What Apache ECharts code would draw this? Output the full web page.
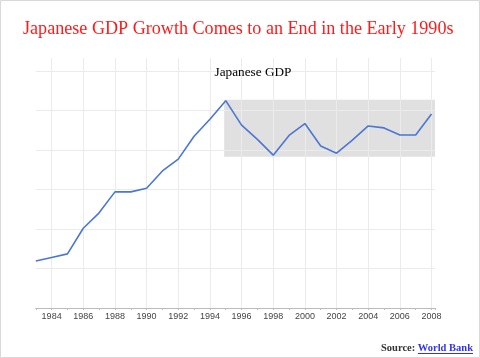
<!DOCTYPE html>
<html>
<head>
<meta charset="utf-8">
<script src="https://cdn.jsdelivr.net/npm/echarts@6/dist/echarts.min.js"></script>
<style>
html,body{margin:0;padding:0;background:#fff;}
#chart{width:480px;height:358px;}
</style>
</head>
<body>
<div id="chart"></div>
<script>
// Data (relative GDP level, unlabelled axis)
var years = [1983,1984,1985,1986,1987,1988,1989,1990,1991,1992,1993,1994,1995,1996,1997,1998,1999,2000,2001,2002,2003,2004,2005,2006,2007,2008];
var gdp   = [1.19,1.28,1.37,2.02,2.41,2.94,2.94,3.03,3.47,3.77,4.35,4.78,5.25,4.63,4.27,3.87,4.37,4.67,4.10,3.92,4.25,4.61,4.56,4.38,4.38,4.91];
var tickYears = [1984,1986,1988,1990,1992,1994,1996,1998,2000,2002,2004,2006,2008];
var gridValues = [1,2,3,4,5,6];
var band = {x0:1994.9, x1:2008.22, y0:3.83, y1:5.27};

var mainTitle = 'Japanese GDP Growth Comes to an End in the Early 1990s';
var chartTitle = 'Japanese GDP';
var sourceLabel = 'Source:';
var sourceName = 'World Bank';

var ctx = document.createElement('canvas').getContext('2d');
var serif = '"Liberation Serif",serif';
function fitSize(text, weight, target){
  ctx.font = weight + ' 20px ' + serif;
  return 20 * target / ctx.measureText(text).width;
}
var mainSize = fitSize(mainTitle, 'normal', 431);
var subSize = fitSize(chartTitle, 'normal', 77);
var srcFont = 'bold 10.5px "Liberation Serif",serif';
ctx.font = srcFont;
var wName = ctx.measureText(sourceName).width;
var wSpace = ctx.measureText(' ').width;
var nameX = 473 - wName;

var chart = echarts.init(document.getElementById('chart'));
var gridColor = '#ebebeb';
var vLines = tickYears.map(function(y){ return {xAxis:y}; });
var hLines = gridValues.map(function(v){ return {yAxis:v}; });

chart.setOption({
  backgroundColor:'#fff',
  animation:false,
  title:[
    {text:mainTitle, left:18, top:15,
     textStyle:{color:'#ff1a1a', fontFamily:serif, fontSize:mainSize, fontWeight:'normal'}},
    {text:chartTitle, left:248, textAlign:'center', top:61,
     textStyle:{color:'#000', fontFamily:serif, fontSize:subSize, fontWeight:'normal'}}
  ],
  grid:{left:35.8, right:45, top:58, bottom:50, containLabel:false},
  xAxis:{type:'value', min:1983, max:2008.22, interval:1,
    axisLine:{show:true, lineStyle:{color:'#bbb', width:1}},
    axisTick:{show:true, length:2, lineStyle:{color:'#bbb'}},
    splitLine:{show:false},
    axisLabel:{color:'#444', fontFamily:'Liberation Sans', fontSize:9, margin:4,
      formatter:function(v){ return (v%2===0 && Math.round(v)===v) ? String(v) : ''; }}
  },
  yAxis:{type:'value', min:0, max:6.33,
    axisLine:{show:false}, axisTick:{show:false}, axisLabel:{show:false}, splitLine:{show:false}},
  series:[
    {type:'line', data:[], silent:true,
     markArea:{silent:true, itemStyle:{color:'#e0e0e0', opacity:1},
       data:[[{xAxis:band.x0, yAxis:band.y0},{xAxis:band.x1, yAxis:band.y1}]]},
     markLine:{silent:true, symbol:'none', label:{show:false},
       lineStyle:{color:gridColor, width:1, type:'solid'},
       data:vLines.concat(hLines)}
    },
    {type:'line', data:years.map(function(y,i){return [y,gdp[i]];}),
     symbol:'none', lineStyle:{color:'#4a76d4', width:1.6}, z:5}
  ],
  graphic:[
    {type:'rect', shape:{x:0.5,y:0.5,width:479,height:357}, style:{fill:'none', stroke:'#d9d9d9', lineWidth:1}, silent:true},
    {type:'text', x:nameX - wSpace, y:348, style:{text:sourceLabel, fill:'#333', font:srcFont, align:'right', verticalAlign:'middle'}},
    {type:'text', x:nameX, y:348, style:{text:sourceName, fill:'#3333ee', font:srcFont, align:'left', verticalAlign:'middle'}},
    {type:'rect', shape:{x:nameX, y:353, width:wName, height:1}, style:{fill:'#3333ee'}}
  ]
});
</script>
</body>
</html>
